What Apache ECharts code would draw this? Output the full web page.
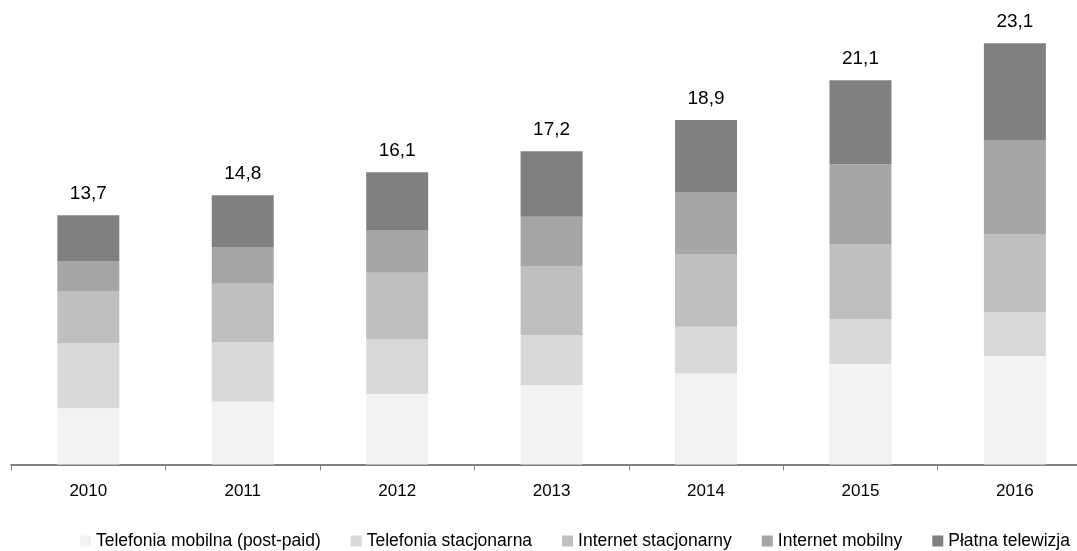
<!DOCTYPE html>
<html>
<head>
<meta charset="utf-8">
<script src="https://cdn.jsdelivr.net/npm/echarts@6/dist/echarts.min.js"></script>
<style>
html,body{margin:0;padding:0;background:#fff;}
#chart{width:1077px;height:551px;}
</style>
</head>
<body>
<div id="chart"></div>
<script>
const years = ['2010', '2011', '2012', '2013', '2014', '2015', '2016'];
const mobilePostpaid = [3.09, 3.47, 3.88, 4.37, 5.01, 5.53, 5.96];
const fixedPhone = [3.57, 3.26, 3.02, 2.73, 2.56, 2.47, 2.42];
const fixedInternet = [2.88, 3.21, 3.64, 3.81, 4.00, 4.12, 4.29];
const mobileInternet = [1.65, 2.02, 2.35, 2.71, 3.41, 4.38, 5.17];
const payTv = [2.51, 2.84, 3.17, 3.60, 3.96, 4.63, 5.32];
const totals = [13.7, 14.8, 16.1, 17.2, 18.9, 21.1, 23.1];
const seriesNames = ['Telefonia mobilna (post-paid)', 'Telefonia stacjonarna', 'Internet stacjonarny', 'Internet mobilny', 'Płatna telewizja'];
const colors = ['#f2f2f2', '#d9d9d9', '#bfbfbf', '#a6a6a6', '#808080'];

const seriesData = [mobilePostpaid, fixedPhone, fixedInternet, mobileInternet, payTv];
const font = '"Liberation Sans", Arial, sans-serif';

const chart = echarts.init(document.getElementById('chart'), null, {renderer: 'canvas'});
const series = seriesData.map((d, i) => {
  const s = {
    name: seriesNames[i],
    type: 'bar',
    stack: 'total',
    data: d,
    barWidth: 62,
    itemStyle: {color: colors[i]},
    emphasis: {disabled: true}
  };
  if (i === seriesData.length - 1) {
    s.label = {
      show: true,
      position: 'top',
      distance: 12,
      color: '#000',
      fontFamily: font,
      fontSize: 19,
      formatter: p => totals[p.dataIndex].toFixed(1).replace('.', ',')
    };
  }
  return s;
});

chart.setOption({
  animation: false,
  color: colors,
  grid: {left: 11.1, width: 1081, top: 9.75, height: 454.75, containLabel: false, outerBoundsMode: 'none'},
  legend: {
    data: seriesNames,
    left: 75,
    top: 527,
    itemWidth: 11,
    itemHeight: 11,
    itemGap: 30,
    icon: 'rect',
    textStyle: {fontFamily: font, fontSize: 17.5, color: '#000'}
  },
  xAxis: {
    type: 'category',
    data: years,
    axisLine: {lineStyle: {color: '#808080', width: 2}},
    axisTick: {show: true, length: 6, lineStyle: {color: '#808080', width: 1}},
    axisLabel: {fontFamily: font, fontSize: 17, color: '#000', margin: 18}
  },
  yAxis: {
    type: 'value',
    min: 0,
    max: 25,
    show: false,
    splitLine: {show: false}
  },
  series: series
});
</script>
</body>
</html>
